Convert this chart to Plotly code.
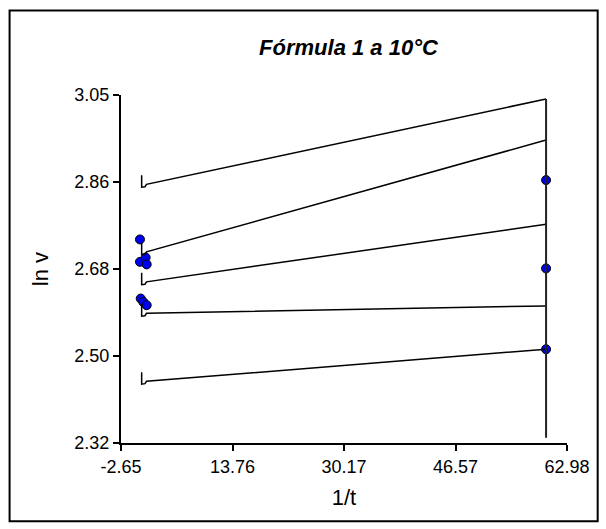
import plotly.graph_objects as go

# ---- data ----
x_tick_vals = [-2.65, 13.7575, 30.165, 46.5725, 62.98]
x_tick_text = ["-2.65", "13.76", "30.17", "46.57", "62.98"]
y_tick_vals = [2.32, 2.5025, 2.685, 2.8675, 3.05]
y_tick_text = ["2.32", "2.50", "2.68", "2.86", "3.05"]

# fitted lines: left start and right end
line_x_start = 1.1
line_x_end = 59.9
line_y_start = [2.8625, 2.721, 2.658, 2.592, 2.4495]
line_y_end = [3.0416, 2.9555, 2.779, 2.6076, 2.5167]
# small hook at the start of each line
hook_x = [0.39, 0.39, 0.88]
hook_dy_top = 0.019
hook_dy_bottom = -0.006

# observed points
pts_x = [0.14, 0.14, 0.98, 1.13, 0.25, 0.63, 1.13, 59.9, 59.9, 59.9]
pts_y = [2.747, 2.700, 2.709, 2.6946, 2.623, 2.616, 2.609, 2.8715, 2.6862, 2.5167]

# vertical line at right
vline_x = 59.9
vline_y = [2.331, 3.0416]

fig = go.Figure()

fig.add_trace(go.Scatter(
    x=pts_x, y=pts_y, mode="markers",
    marker=dict(size=9, color="#0000F0", line=dict(color="black", width=1)),
    showlegend=False, hoverinfo="skip"))

for ys, ye in zip(line_y_start, line_y_end):
    xs = [hook_x[0], hook_x[1], hook_x[2], line_x_start, line_x_end]
    yy = [ys + hook_dy_top, ys + hook_dy_bottom, ys + hook_dy_bottom + 0.001, ys, ye]
    fig.add_trace(go.Scatter(x=xs, y=yy, mode="lines",
                             line=dict(color="black", width=1.5),
                             showlegend=False, hoverinfo="skip"))

fig.add_trace(go.Scatter(x=[vline_x, vline_x], y=vline_y, mode="lines",
                         line=dict(color="#222222", width=2),
                         showlegend=False, hoverinfo="skip"))

font = "Liberation Sans, Arial, sans-serif"
fig.update_layout(
    width=606, height=529,
    margin=dict(l=121, r=39, t=95, b=86, pad=0),
    paper_bgcolor="white", plot_bgcolor="white",
    font=dict(family=font, size=18, color="black"),
    title=dict(text="<b><i>Fórmula 1 a 10°C</i></b>", x=0.51, xref="paper",
               y=1 - 47 / 529, yref="container", yanchor="middle", xanchor="center",
               font=dict(family=font, size=22, color="black")),
    xaxis=dict(range=[-2.65, 62.98], tickvals=x_tick_vals, ticktext=x_tick_text,
               showgrid=False, zeroline=False, showline=True, linecolor="black",
               linewidth=2, ticks="outside", ticklen=6, tickwidth=2, tickcolor="black",
               title=dict(text="1/t", standoff=14), tickfont=dict(size=18)),
    yaxis=dict(range=[2.32, 3.05], tickvals=y_tick_vals, ticktext=y_tick_text,
               showgrid=False, zeroline=False, showline=True, linecolor="black",
               linewidth=2, ticks="outside", ticklen=6, tickwidth=2, tickcolor="black",
               title=dict(text="ln v", standoff=20), tickfont=dict(size=18)),
    shapes=[dict(type="rect", xref="paper", yref="paper",
                 x0=(9.5 - 121) / 446.3, x1=(598 - 121) / 446.3,
                 y0=(442.7 - 521) / 347.7, y1=(442.7 - 10.5) / 347.7,
                 line=dict(color="black", width=2), layer="below")],
)

fig.write_html("out.html")
